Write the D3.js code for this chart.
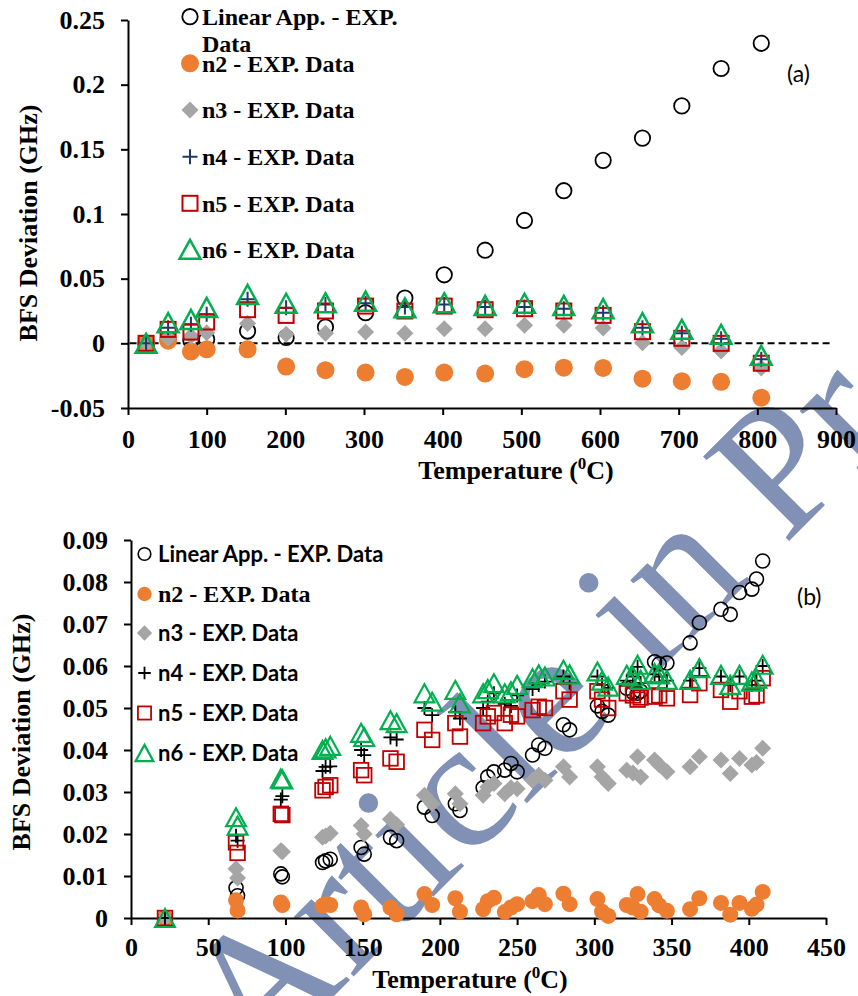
<!DOCTYPE html>
<html lang="en">
<head>
<meta charset="UTF-8">
<title>BFS deviation vs temperature</title>
<script src="https://d3js.org/d3.v7.min.js"></script>
<style>
  body { margin: 0; background: #fff; }
  .tick text, .title, .legserif { font-family: "Liberation Serif", "Times New Roman", serif; font-weight: bold; fill: #000; }
  .legsans { font-family: Lato, "Open Sans", sans-serif; font-weight: bold; fill: #000; }
  .panel-label { font-family: Lato, "Open Sans", sans-serif; fill: #000; }
  .domain, .tick line { stroke: #000; stroke-width: 2px; }
</style>
</head>
<body>
<script>
// ---- panel (a) data ----
const tempA = [23, 51, 80, 100, 152, 201, 251, 302, 352, 402, 454, 504, 554, 604, 654, 704, 754, 805];
const linearA = [0, 0.003, 0.002, 0.003, 0.0095, 0.0045, 0.0126, 0.0237, 0.035, 0.053, 0.072, 0.095, 0.118, 0.1415, 0.1587, 0.1836, 0.2125, 0.232];
const n2A = [0, 0.002, -0.0064, -0.0046, -0.0046, -0.018, -0.0208, -0.0226, -0.026, -0.0226, -0.0234, -0.020, -0.0188, -0.019, -0.0273, -0.0293, -0.0298, -0.042];
const n3A = [0, 0.004, 0.0056, 0.0082, 0.0154, 0.007, 0.0077, 0.0087, 0.0077, 0.0113, 0.0113, 0.0139, 0.0139, 0.0118, 0.0005, -0.0033, -0.0059, -0.019];
const n4A = [0, 0.012, 0.0147, 0.0224, 0.034, 0.0275, 0.030, 0.031, 0.028, 0.030, 0.028, 0.028, 0.0268, 0.0237, 0.012, 0.0077, 0.0036, -0.0123];
const n5A = [0, 0.0108, 0.0087, 0.0165, 0.026, 0.0216, 0.025, 0.0288, 0.025, 0.0288, 0.026, 0.0268, 0.025, 0.0216, 0.009, 0.0039, 0, -0.0154];
const n6A = [0, 0.016, 0.0185, 0.0278, 0.0378, 0.031, 0.0314, 0.0326, 0.0275, 0.0314, 0.0293, 0.031, 0.0293, 0.0268, 0.016, 0.0108, 0.007, -0.0093];
const xTicksA = [0, 100, 200, 300, 400, 500, 600, 700, 800, 900];
const yTicksA = [-0.05, 0, 0.05, 0.1, 0.15, 0.2, 0.25];

// ---- panel (b) data ----
const tempB = [22, 68, 69, 97, 98, 124, 126, 129, 149, 151, 168, 172, 190, 195, 210, 213, 228, 231, 235, 242, 246, 250,
  260, 264, 268, 280, 284, 302, 305, 309, 321, 325, 328, 330, 339, 342, 347, 362, 368, 382, 388, 394, 402, 405, 409];
const linearB = [0, 0.0072, 0.0053, 0.0105, 0.0098, 0.0132, 0.0136, 0.014, 0.0168, 0.0152, 0.0192, 0.0184, 0.0264, 0.0244, 0.0272, 0.0256,
  0.031, 0.0336, 0.0348, 0.0352, 0.0368, 0.0348, 0.0388, 0.0412, 0.0404, 0.046, 0.0448, 0.0505, 0.0492, 0.0483,
  0.0547, 0.0537, 0.0535, 0.054, 0.061, 0.0605, 0.0607, 0.0655, 0.0703, 0.0735, 0.0723, 0.0775, 0.0783, 0.0807, 0.085];
const n2B = [0, 0.0042, 0.0018, 0.0037, 0.0031, 0.0029, 0.0033, 0.0031, 0.0025, 0.0009, 0.0025, 0.0009, 0.0057, 0.0031, 0.0047, 0.0015,
  0.0021, 0.004, 0.0048, 0.0014, 0.0025, 0.0033, 0.004, 0.0055, 0.0033, 0.0058, 0.0033, 0.0045, 0.0015, 0.0005,
  0.0031, 0.0025, 0.0057, 0.0015, 0.0045, 0.003, 0.0017, 0.0021, 0.0047, 0.0036, 0.0008, 0.0036, 0.0022, 0.0032, 0.0062];
const n3B = [0, 0.0117, 0.0095, 0.016, 0.0158, 0.0192, 0.0195, 0.0202, 0.022, 0.020, 0.0235, 0.0222, 0.0292, 0.0272, 0.0296, 0.0272,
  0.0292, 0.0312, 0.032, 0.0296, 0.031, 0.0308, 0.0328, 0.034, 0.0328, 0.036, 0.0336, 0.036, 0.0336, 0.032,
  0.0352, 0.0345, 0.0384, 0.0336, 0.0376, 0.0365, 0.0348, 0.036, 0.0384, 0.0376, 0.0344, 0.038, 0.0364, 0.037, 0.0404];
const n4B = [0, 0.0196, 0.0184, 0.0282, 0.029, 0.035, 0.036, 0.0361, 0.040, 0.0388, 0.043, 0.0425, 0.050, 0.0483, 0.049, 0.0475,
  0.050, 0.0515, 0.0535, 0.051, 0.0505, 0.053, 0.0545, 0.0555, 0.0563, 0.0575, 0.056, 0.0575, 0.0555, 0.0548,
  0.0565, 0.0575, 0.0598, 0.056, 0.058, 0.0575, 0.0565, 0.0565, 0.0595, 0.0575, 0.0555, 0.0575, 0.0555, 0.0565, 0.060];
const n5B = [0, 0.018, 0.0155, 0.0248, 0.0245, 0.0304, 0.0312, 0.0316, 0.0352, 0.034, 0.038, 0.0372, 0.0448, 0.0424, 0.0464, 0.0432,
  0.0464, 0.048, 0.0488, 0.0464, 0.0484, 0.048, 0.0495, 0.0503, 0.050, 0.054, 0.052, 0.054, 0.052, 0.050,
  0.0535, 0.053, 0.052, 0.0525, 0.0527, 0.053, 0.0523, 0.0531, 0.0559, 0.0543, 0.0515, 0.054, 0.0527, 0.053, 0.0571];
const n6B = [0, 0.024, 0.022, 0.0332, 0.033, 0.040, 0.0404, 0.041, 0.0441, 0.0431, 0.0471, 0.0464, 0.0535, 0.0515, 0.0543, 0.0511,
  0.0535, 0.0545, 0.0559, 0.0535, 0.054, 0.0555, 0.0571, 0.058, 0.0575, 0.0591, 0.058, 0.0587, 0.0565, 0.0551,
  0.0579, 0.0575, 0.0603, 0.0567, 0.0583, 0.058, 0.0567, 0.0567, 0.0595, 0.0579, 0.0555, 0.0579, 0.0563, 0.057, 0.0603];
const xTicksB = [0, 50, 100, 150, 200, 250, 300, 350, 400, 450];
const yTicksB = [0, 0.01, 0.02, 0.03, 0.04, 0.05, 0.06, 0.07, 0.08, 0.09];

const legendLabels = ["Linear App. - EXP. Data", "n2 - EXP. Data", "n3 - EXP. Data", "n4 - EXP. Data", "n5 - EXP. Data", "n6 - EXP. Data"];

const width = 858, height = 996;
const svg = d3.select("body").append("svg").attr("width", width).attr("height", height);

// watermark sits behind the charts
svg.append("text")
  .attr("transform", "translate(257,1073) rotate(-45)")
  .attr("font-family", "'Liberation Serif', 'Times New Roman', serif")
  .attr("font-size", 184)
  .attr("fill", "#8191b5")
  .text("Article in Press");

// marker shapes, Excel style (centred on the point)
function marker(g, shape, s) {
  if (shape === "circle" || shape === "dot") return g.append("circle").attr("r", s);
  if (shape === "diamond") return g.append("path").attr("d", `M0,${-s}L${s},0L0,${s}L${-s},0Z`);
  if (shape === "plus") return g.append("path").attr("d", `M${-s},0H${s}M0,${-s}V${s}`);
  if (shape === "square") return g.append("rect").attr("x", -s).attr("y", -s).attr("width", 2 * s).attr("height", 2 * s);
  if (shape === "triangle") return g.append("path").attr("d", `M0,${-s}L${s * 1.1},${s}L${-s * 1.1},${s}Z`);
}

function styleMarker(m, st) {
  m.attr("fill", st.fill || "none")
   .attr("stroke", st.stroke || "none")
   .attr("stroke-width", st.sw || 0);
}

function drawSeries(g, xs, ys, st, x, y) {
  const pts = g.append("g").selectAll("g")
    .data(xs.map((t, i) => [t, ys[i]]))
    .join("g")
    .attr("transform", d => `translate(${x(d[0])},${y(d[1])})`);
  pts.each(function () { styleMarker(marker(d3.select(this), st.shape, st.size), st); });
}

function axisStyle(g) {
  g.selectAll(".tick text").attr("font-size", 26);
}

const fmt = d => String(+d.toFixed(2));

// ================= panel (a) =================
const xA = d3.scaleLinear().domain([0, 900]).range([128, 836]);
const yA = d3.scaleLinear().domain([-0.05, 0.25]).range([408, 20]);

const stylesA = [
  {shape: "circle", size: 7.7, stroke: "#000", sw: 1.8},
  {shape: "dot", size: 9, fill: "#ED7D31"},
  {shape: "diamond", size: 8.5, fill: "#A5A5A5"},
  {shape: "plus", size: 7.5, stroke: "#1F3864", sw: 2},
  {shape: "square", size: 7.5, stroke: "#C00000", sw: 2},
  {shape: "triangle", size: 9.5, stroke: "#00B050", sw: 2.5}
];

const gA = svg.append("g");

gA.append("g")
  .attr("transform", "translate(0,408)")
  .call(d3.axisBottom(xA).tickValues(xTicksA).tickSize(7).tickSizeOuter(0).tickFormat(d3.format("d")))
  .call(axisStyle)
  .call(g => g.selectAll(".tick text").attr("dy", null).attr("y", 40));

gA.append("g")
  .attr("transform", "translate(128,0)")
  .call(d3.axisLeft(yA).tickValues(yTicksA).tickSize(7).tickSizeOuter(0).tickPadding(16).tickFormat(fmt))
  .call(axisStyle);

// zero line
gA.append("line")
  .attr("x1", xA(2)).attr("x2", xA(895))
  .attr("y1", yA(0)).attr("y2", yA(0))
  .attr("stroke", "#000").attr("stroke-width", 2).attr("stroke-dasharray", "7,4");

[linearA, n2A, n3A, n4A, n5A, n6A].forEach((ys, i) => drawSeries(gA, tempA, ys, stylesA[i], xA, yA));

gA.append("text").attr("class", "title")
  .attr("transform", "translate(37,223) rotate(-90)")
  .attr("text-anchor", "middle").attr("font-size", 26)
  .text("BFS Deviation (GHz)");

function tempTitle(g, cx, by) {
  const t = g.append("text").attr("class", "title")
    .attr("x", cx).attr("y", by).attr("text-anchor", "middle").attr("font-size", 26);
  t.append("tspan").text("Temperature (");
  t.append("tspan").attr("font-size", 17).attr("dy", -10).text("0");
  t.append("tspan").attr("dy", 10).text("C)");
}
tempTitle(gA, 516, 479);

// legend (a)
const legRowsA = [16.7, 63.3, 110, 156.7, 203.3, 249.3];
const legA = gA.append("g");
legendLabels.forEach((lab, i) => {
  const mg = legA.append("g").attr("transform", `translate(190,${legRowsA[i]})`);
  styleMarker(marker(mg, stylesA[i].shape, stylesA[i].size), stylesA[i]);
  const t = legA.append("text").attr("class", "legserif").attr("font-size", 24)
    .attr("x", 202).attr("y", legRowsA[i] + 8.3);
  if (i === 0) {
    t.text("Linear App. - EXP.");
    legA.append("text").attr("class", "legserif").attr("font-size", 24)
      .attr("x", 202).attr("y", 51.7).text("Data");
  } else {
    t.text(lab);
  }
});

gA.append("text").attr("class", "panel-label").attr("font-size", 23)
  .attr("x", 787).attr("y", 82).text("(a)");

// ================= panel (b) =================
const xB = d3.scaleLinear().domain([0, 450]).range([131, 826]);
const yB = d3.scaleLinear().domain([0, 0.09]).range([918, 540]);

const stylesB = [
  {shape: "circle", size: 7, stroke: "#000", sw: 1.6},
  {shape: "dot", size: 8, fill: "#ED7D31"},
  {shape: "diamond", size: 8.5, fill: "#A5A5A5"},
  {shape: "plus", size: 7, stroke: "#000", sw: 1.8},
  {shape: "square", size: 7.3, stroke: "#C00000", sw: 1.8},
  {shape: "triangle", size: 9, stroke: "#00B050", sw: 2.2}
];

const gB = svg.append("g");

gB.append("g")
  .attr("transform", "translate(0,918)")
  .call(d3.axisBottom(xB).tickValues(xTicksB).tickSize(7).tickSizeOuter(0).tickFormat(d3.format("d")))
  .call(axisStyle)
  .call(g => g.selectAll(".tick text").attr("dy", null).attr("y", 38));

gB.append("g")
  .attr("transform", "translate(131,0)")
  .call(d3.axisLeft(yB).tickValues(yTicksB).tickSize(7).tickSizeOuter(0).tickPadding(16).tickFormat(fmt))
  .call(axisStyle);

[linearB, n2B, n3B, n4B, n5B, n6B].forEach((ys, i) => drawSeries(gB, tempB, ys, stylesB[i], xB, yB));

gB.append("text").attr("class", "title")
  .attr("transform", "translate(30,732) rotate(-90)")
  .attr("text-anchor", "middle").attr("font-size", 26)
  .text("BFS Deviation (GHz)");

tempTitle(gB, 470, 988);

// legend (b): the n2 row is set in a serif face, the rest sans
const legRowsB = [554, 594, 633, 673, 713, 753];
const legB = gB.append("g");
legendLabels.forEach((lab, i) => {
  const mg = legB.append("g").attr("transform", `translate(144.5,${legRowsB[i]})`);
  styleMarker(marker(mg, stylesB[i].shape, stylesB[i].size * 0.9), stylesB[i]);
  const serif = i === 1;
  legB.append("text").attr("class", serif ? "legserif" : "legsans")
    .attr("font-size", serif ? 24 : 22)
    .attr("x", 158).attr("y", legRowsB[i] + 8)
    .text(lab);
});

gB.append("text").attr("class", "panel-label").attr("font-size", 23)
  .attr("x", 797).attr("y", 605).text("(b)");
</script>
</body>
</html>
